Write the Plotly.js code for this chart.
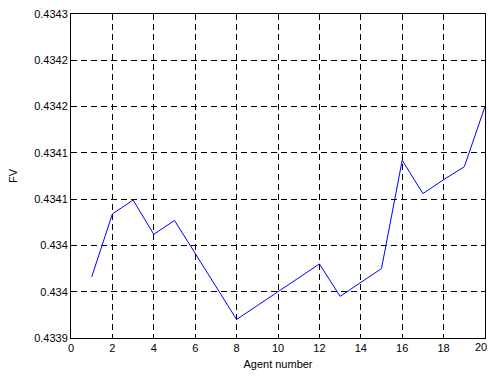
<!DOCTYPE html>
<html>
<head>
<meta charset="utf-8">
<script src="https://cdn.plot.ly/plotly-3.0.1.min.js"></script>
<style>html,body{margin:0;padding:0;background:#fff;}#chart{width:489px;height:376px;}</style>
</head>
<body>
<div id="chart"></div>
<script>
var agents = [1,2,3,4,5,6,7,8,9,10,11,12,13,14,15,16,17,18,19,20];
var fv = [0.433966,0.434034,0.434049,0.434012,0.434027,0.433991,0.433955,0.433920,0.433935,0.433950,
          0.433965,0.433980,0.433945,0.433960,0.433975,0.434092,0.434056,0.434071,0.434085,0.434150];
var xTicks = [0,2,4,6,8,10,12,14,16,18,20];
var yTickVals = [0.43390,0.43395,0.43400,0.43405,0.43410,0.43415,0.43420,0.43425];
var yTickText = ['0.4339','0.434','0.434','0.4341','0.4341','0.4342','0.4342','0.4343'];

var font = {family:'Liberation Sans, Arial, sans-serif', size:11, color:'#000'};
Plotly.newPlot('chart', [{
  x: agents, y: fv, type:'scatter', mode:'lines',
  line:{color:'#0000ff', width:1}
}], {
  width:489, height:376,
  margin:{l:71, r:4, t:14, b:38},
  paper_bgcolor:'#fff', plot_bgcolor:'#fff',
  font: font,
  showlegend:false,
  xaxis:{
    range:[0,20], tickvals:xTicks, ticktext:xTicks.map(String),
    showline:true, mirror:'ticks', linecolor:'#000', linewidth:1,
    ticks:'inside', ticklen:4, tickcolor:'#000',
    showgrid:true, gridcolor:'#000', gridwidth:1, griddash:'6px,4px',
    zeroline:false, tickfont:font,
    title:{text:'Agent number', font:font, standoff:7}
  },
  yaxis:{
    range:[0.43390,0.43425], tickvals:yTickVals, ticktext:yTickText,
    showline:true, mirror:'ticks', linecolor:'#000', linewidth:1,
    ticks:'inside', ticklen:4, tickcolor:'#000',
    showgrid:true, gridcolor:'#000', gridwidth:1, griddash:'6px,4px',
    zeroline:false, tickfont:font,
    title:{text:'FV', font:font, standoff:14}
  },
  annotations:[{
    x: xTicks[xTicks.length-1], y: 0, xref:'x', yref:'paper',
    text: String(xTicks[xTicks.length-1]), showarrow:false,
    xanchor:'right', yanchor:'top', yshift:-2, xshift:3, borderpad:0, font:font
  }]
}, {staticPlot:true});
</script>
</body>
</html>
